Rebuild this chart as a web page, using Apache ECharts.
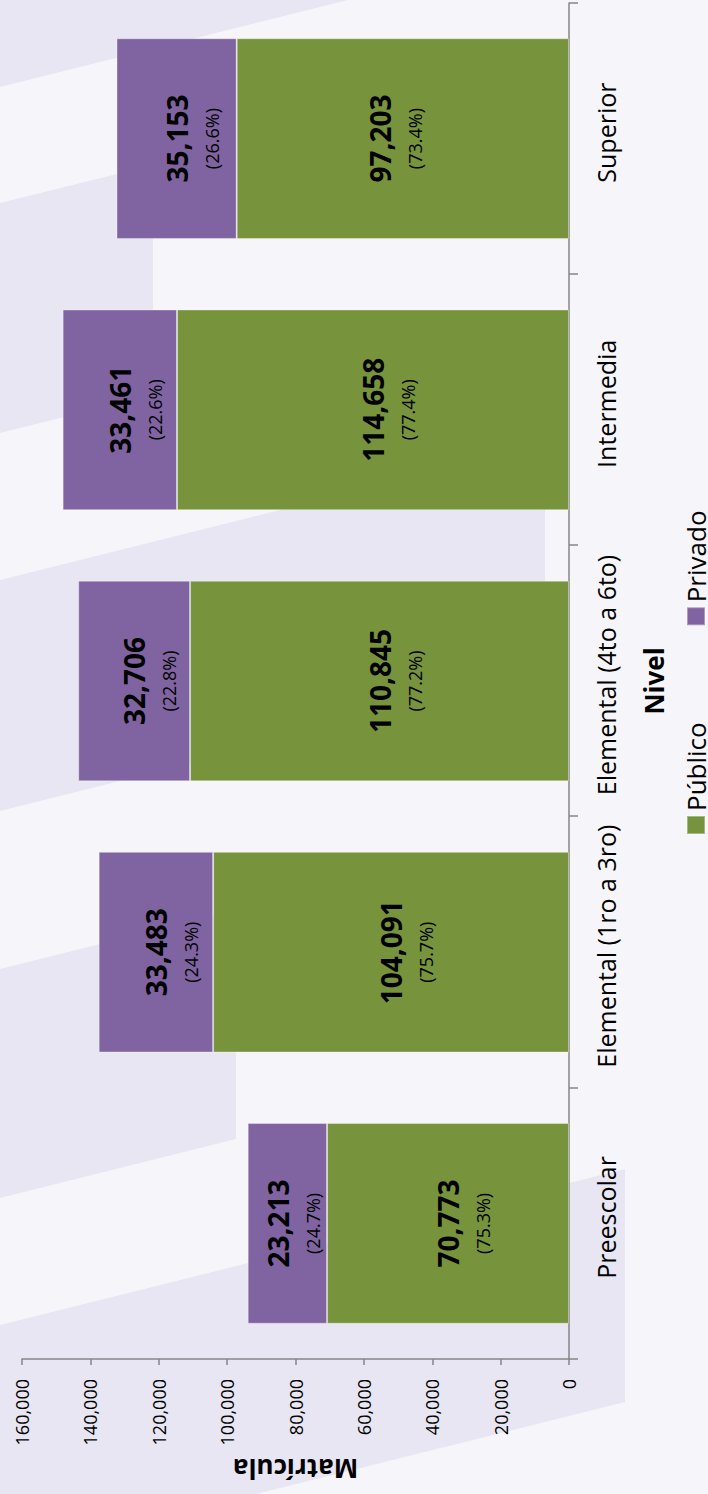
<!DOCTYPE html>
<html>
<head>
<meta charset="utf-8">
<script src="https://cdn.jsdelivr.net/npm/echarts@6/dist/echarts.min.js"></script>
<style>
html,body{margin:0;padding:0;width:708px;height:1494px;overflow:hidden;background:#f6f6fa;}
#c{position:absolute;left:0;top:0;width:1494px;height:708px;transform-origin:0 0;transform:translate(0,1494px) rotate(-90deg);}
</style>
</head>
<body>
<div id="c"></div>
<script>
// ---- data ----
const categories = ['Preescolar', 'Elemental (1ro a 3ro)', 'Elemental (4to a 6to)', 'Intermedia', 'Superior'];
const publico = [70773, 104091, 110845, 114658, 97203];
const privado = [23213, 33483, 32706, 33461, 35153];
const publicoPct = [75.3, 75.7, 77.2, 77.4, 73.4];
const privadoPct = [24.7, 24.3, 22.8, 22.6, 26.6];
const valueMin = 0, valueMax = 160000, valueStep = 20000;
const seriesNames = ['Público', 'Privado'];
const axisTitles = { category: 'Nivel', value: 'Matrícula' };

// ---- layout / decoration (not data) ----
// decorative background stripes, given in page (portrait) coordinates
const stripesPage = [
  [[0, 87], [400, -13], [400, -300], [0, -300]],
  [[0, 203], [153, 165], [153, 395], [0, 433]],
  [[0, 580], [545, 444], [545, 675], [0, 811]],
  [[0, 969], [236, 910], [236, 1139], [0, 1198]],
  [[0, 1325], [625, 1169], [625, 1402], [0, 1558]]
];
// labels that were manually moved in the original chart (pixel nudge)
const labelNudge = { 'Privado|Preescolar': -9, 'Público|Superior': -23 };
const PAGE_H = 1494;
const toChart = p => [PAGE_H - p[1], p[0]];

const fmt = v => v.toLocaleString('en-US');
const FONT = '"Open Sans", "Noto Sans", sans-serif';
const BASE_OFFSET = 17;

function labelFor(pcts) {
  return {
    show: true,
    position: 'inside',
    offset: [0, BASE_OFFSET],
    formatter: p => '{v|' + fmt(p.value) + '}\n{p|(' + pcts[p.dataIndex].toFixed(1) + '%)}',
    rich: {
      v: { fontSize: 28, fontWeight: 'bold', color: '#000', fontFamily: FONT, lineHeight: 36 },
      p: { fontSize: 18, color: '#000', fontFamily: FONT, lineHeight: 34 }
    }
  };
}
function itemsFor(name, values) {
  return values.map((v, i) => {
    const n = labelNudge[name + '|' + categories[i]];
    return n ? { value: v, label: { offset: [0, BASE_OFFSET + n] } } : v;
  });
}

const chart = echarts.init(document.getElementById('c'), null, { renderer: 'svg', width: 1494, height: 708 });
chart.setOption({
  backgroundColor: '#f6f6fa',
  animation: false,
  textStyle: { fontFamily: FONT },
  graphic: {
    elements: stripesPage.map(s => ({
      type: 'polygon',
      silent: true,
      z: -10,
      shape: { points: s.map(toChart) },
      style: { fill: '#e8e6f2' }
    }))
  },
  grid: { left: 135, right: 3, top: 22, bottom: 139 },
  legend: {
    data: seriesNames,
    left: 654,
    top: 678,
    itemWidth: 18,
    itemHeight: 18,
    itemGap: 96,
    icon: 'rect',
    textStyle: { fontSize: 26, color: '#000', fontFamily: FONT, padding: [0, 0, 6, 0] }
  },
  xAxis: {
    type: 'category',
    data: categories,
    name: axisTitles.category,
    nameLocation: 'middle',
    nameGap: 72,
    nameTextStyle: { fontSize: 26, fontWeight: 'bold', color: '#000', fontFamily: FONT },
    axisLine: { lineStyle: { color: '#868686', width: 1.5 } },
    axisTick: { show: true, length: 9, lineStyle: { color: '#868686', width: 1.5 } },
    axisLabel: { fontSize: 25, color: '#000', margin: 24, fontFamily: FONT, interval: 0, padding: [0, 0, 0, 12] }
  },
  yAxis: {
    type: 'value',
    min: valueMin,
    max: valueMax,
    interval: valueStep,
    name: axisTitles.value,
    nameLocation: 'middle',
    nameRotate: 90,
    nameGap: 96,
    nameTextStyle: { fontSize: 26, fontWeight: 'bold', color: '#000', fontFamily: FONT },
    axisLine: { show: true, lineStyle: { color: '#868686', width: 1.5 } },
    axisTick: { show: true, length: 6, lineStyle: { color: '#868686', width: 1.5 } },
    splitLine: { show: false },
    axisLabel: { fontSize: 18, color: '#000', margin: 20, fontFamily: FONT, formatter: v => fmt(v) }
  },
  series: [
    {
      name: seriesNames[0],
      type: 'bar',
      stack: 'total',
      data: itemsFor(seriesNames[0], publico),
      barCategoryGap: '26%',
      itemStyle: { color: '#77933c', borderColor: 'rgba(255,255,255,0.35)', borderWidth: 1 },
      label: labelFor(publicoPct)
    },
    {
      name: seriesNames[1],
      type: 'bar',
      stack: 'total',
      data: itemsFor(seriesNames[1], privado),
      barCategoryGap: '26%',
      itemStyle: { color: '#8064a2', borderColor: 'rgba(255,255,255,0.35)', borderWidth: 1 },
      label: labelFor(privadoPct)
    }
  ]
});
</script>
</body>
</html>
